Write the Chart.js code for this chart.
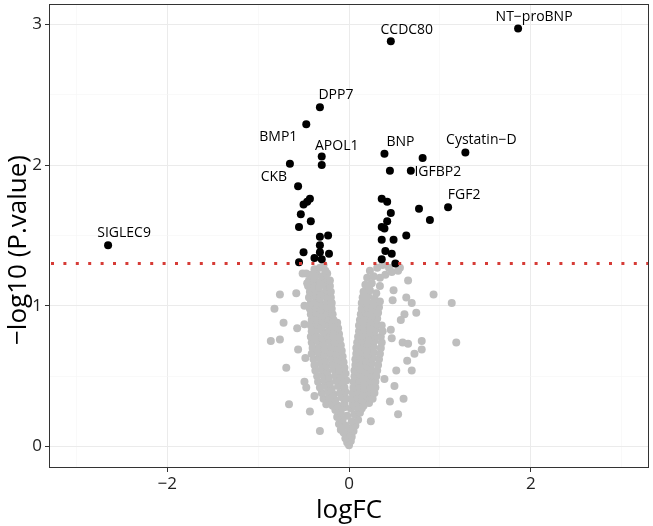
<!DOCTYPE html>
<html>
<head>
<meta charset="utf-8">
<script src="https://cdn.jsdelivr.net/npm/chart.js@4.4.1/dist/chart.umd.min.js"></script>
<style>
  html, body { margin: 0; padding: 0; background: #fff; }
  canvas { display: block; }
</style>
</head>
<body>
<canvas id="volcano" width="653" height="526"></canvas>
<script>
// labelled proteins
const geneNames = ['NT\u2212proBNP', 'CCDC80', 'DPP7', 'BMP1', 'APOL1', 'CKB', 'BNP', 'Cystatin\u2212D', 'IGFBP2', 'FGF2', 'SIGLEC9'];
const geneFC    = [1.86, 0.46, -0.32, -0.47, -0.30, -0.65, 0.39, 1.28, 0.68, 1.09, -2.65];
const geneP     = [2.97, 2.88, 2.41, 2.29, 2.06, 2.01, 2.08, 2.09, 1.96, 1.70, 1.43];

// other significant (unlabelled) points
const sigFC = [-0.30, 0.81, 0.45, -0.56, -0.43, -0.46, -0.50, -0.53, -0.42, -0.55, 0.36, 0.42, 0.46, 0.42, 0.36, 0.39,
               0.77, 0.89, 0.63, -0.32, -0.23, -0.32, 0.36, 0.49, -0.50, -0.32, -0.22, -0.38, -0.30, 0.40, 0.47, 0.36, -0.55, 0.51];
const sigP  = [2.00, 2.05, 1.96, 1.85, 1.76, 1.74, 1.72, 1.65, 1.60, 1.56, 1.76, 1.74, 1.66, 1.60, 1.56, 1.55,
               1.69, 1.61, 1.50, 1.49, 1.50, 1.43, 1.47, 1.47, 1.38, 1.38, 1.37, 1.34, 1.33, 1.39, 1.37, 1.33, 1.31, 1.30];

// non-significant points (logFC, -log10 p)
const nsTip = [
  [0.00,0.01],[-0.02,0.03],[0.02,0.04],[-0.04,0.06],[0.03,0.07],[-0.01,0.09],[-0.06,0.10],[0.05,0.11],[-0.09,0.12],
  [0.01,0.13],[-0.04,0.15],[0.07,0.15],[-0.11,0.16],[0.03,0.18],[-0.07,0.19],[0.10,0.19],[-0.13,0.21],[-0.02,0.22],
  [0.06,0.23],[-0.09,0.24],[0.12,0.24],[-0.15,0.26],[0.02,0.27],[-0.05,0.28],[0.09,0.28],[-0.18,0.29],[0.14,0.27]
];
const nsLeftArm = [
  [-0.25,0.30],[-0.18,0.31],[-0.12,0.29],[-0.05,0.31],
  [-0.28,0.34],[-0.22,0.35],[-0.15,0.33],[-0.08,0.35],[-0.03,0.34],
  [-0.30,0.38],[-0.23,0.39],[-0.17,0.37],[-0.10,0.38],[-0.04,0.39],
  [-0.32,0.42],[-0.26,0.43],[-0.19,0.41],[-0.12,0.43],[-0.05,0.42],
  [-0.34,0.46],[-0.27,0.47],[-0.21,0.45],[-0.14,0.47],[-0.08,0.46],[-0.03,0.47],
  [-0.35,0.50],[-0.29,0.51],[-0.22,0.49],[-0.15,0.51],[-0.09,0.50],[-0.04,0.52],
  [-0.37,0.54],[-0.30,0.55],[-0.24,0.53],[-0.17,0.55],[-0.11,0.54],[-0.05,0.56],
  [-0.38,0.58],[-0.31,0.59],[-0.25,0.57],[-0.18,0.59],[-0.12,0.58],[-0.06,0.60],
  [-0.39,0.62],[-0.33,0.63],[-0.26,0.61],[-0.19,0.63],[-0.13,0.62],[-0.07,0.64],
  [-0.41,0.66],[-0.34,0.67],[-0.27,0.65],[-0.21,0.67],[-0.14,0.66],[-0.08,0.68],
  [-0.40,0.70],[-0.33,0.71],[-0.27,0.69],[-0.20,0.71],[-0.14,0.70],[-0.09,0.72],
  [-0.41,0.74],[-0.35,0.75],[-0.28,0.73],[-0.22,0.75],[-0.16,0.74],[-0.10,0.76],
  [-0.42,0.78],[-0.36,0.79],[-0.29,0.77],[-0.23,0.79],[-0.17,0.78],[-0.11,0.80],
  [-0.41,0.82],[-0.35,0.83],[-0.28,0.81],[-0.22,0.83],[-0.16,0.82],[-0.12,0.84],
  [-0.42,0.86],[-0.36,0.87],[-0.30,0.85],[-0.24,0.87],[-0.18,0.86],[-0.13,0.88],
  [-0.41,0.90],[-0.35,0.91],[-0.29,0.89],[-0.23,0.91],[-0.17,0.90],
  [-0.42,0.94],[-0.36,0.95],[-0.30,0.93],[-0.24,0.95],[-0.18,0.94],
  [-0.43,0.98],[-0.37,0.99],[-0.31,0.97],[-0.25,0.99],[-0.19,0.98],
  [-0.42,1.02],[-0.36,1.03],[-0.30,1.01],[-0.24,1.03],[-0.19,1.02],
  [-0.44,1.06],[-0.38,1.07],[-0.32,1.05],[-0.26,1.07],[-0.20,1.06],
  [-0.43,1.10],[-0.37,1.11],[-0.31,1.09],[-0.25,1.11],[-0.20,1.10],
  [-0.45,1.14],[-0.39,1.15],[-0.33,1.13],[-0.27,1.15],[-0.21,1.14],
  [-0.44,1.18],[-0.38,1.19],[-0.32,1.17],[-0.26,1.19],[-0.21,1.18],
  [-0.42,1.22],[-0.36,1.23],[-0.30,1.21],[-0.24,1.23],
  [-0.38,1.26],[-0.32,1.27],[-0.26,1.25],[-0.47,1.23],[-0.28,1.29]
];
const nsRightArm = [
  [0.04,0.30],[0.10,0.31],[0.16,0.29],[0.22,0.31],
  [0.03,0.34],[0.09,0.35],[0.15,0.33],[0.21,0.35],[0.26,0.34],
  [0.04,0.38],[0.10,0.39],[0.16,0.37],[0.22,0.39],[0.28,0.38],
  [0.05,0.42],[0.11,0.43],[0.17,0.41],[0.23,0.43],[0.29,0.42],
  [0.05,0.46],[0.11,0.47],[0.17,0.45],[0.23,0.47],[0.29,0.46],
  [0.06,0.50],[0.12,0.51],[0.18,0.49],[0.24,0.51],[0.30,0.50],
  [0.06,0.54],[0.12,0.55],[0.18,0.53],[0.24,0.55],[0.31,0.54],
  [0.07,0.58],[0.13,0.59],[0.19,0.57],[0.25,0.59],[0.32,0.58],
  [0.07,0.62],[0.13,0.63],[0.19,0.61],[0.26,0.63],[0.33,0.62],
  [0.08,0.66],[0.14,0.67],[0.20,0.65],[0.27,0.67],[0.34,0.66],
  [0.08,0.70],[0.14,0.71],[0.20,0.69],[0.27,0.71],[0.35,0.70],
  [0.09,0.74],[0.15,0.75],[0.21,0.73],[0.28,0.75],[0.36,0.74],
  [0.10,0.78],[0.16,0.79],[0.22,0.77],[0.28,0.79],[0.35,0.78],
  [0.11,0.82],[0.17,0.83],[0.23,0.81],[0.29,0.83],[0.37,0.82],
  [0.11,0.86],[0.17,0.87],[0.23,0.85],[0.30,0.87],[0.36,0.86],
  [0.12,0.90],[0.18,0.91],[0.24,0.89],[0.31,0.91],
  [0.13,0.94],[0.19,0.95],[0.25,0.93],[0.32,0.95],
  [0.14,0.98],[0.20,0.99],[0.26,0.97],[0.33,0.99],
  [0.14,1.02],[0.20,1.03],[0.27,1.01],[0.34,1.03],
  [0.15,1.06],[0.21,1.07],[0.28,1.05],
  [0.16,1.10],[0.23,1.11],[0.30,1.09],
  [0.18,1.15],[0.25,1.16],[0.34,1.14],
  [0.20,1.20],[0.27,1.21],[0.40,1.22],
  [0.23,1.25],[0.31,1.27],[0.44,1.27],[0.37,1.29],[0.56,1.27],[0.47,1.24]
];
const nsScatter = [
  [-0.76,1.08],[-0.58,1.09],[-0.82,0.98],[-0.72,0.88],[-0.86,0.75],[-0.76,0.76],[-0.57,0.84],[-0.69,0.56],
  [-0.66,0.30],[-0.56,0.69],[-0.48,0.63],[-0.49,0.46],[-0.47,0.42],[-0.43,0.25],[-0.32,0.11],[-0.38,0.36],
  [-0.49,0.87],[-0.49,1.00],[-0.46,1.16],[-0.51,1.23],
  [0.93,1.08],[1.13,1.02],[1.18,0.74],[0.80,0.75],[0.80,0.69],[0.72,0.66],[0.69,0.54],[0.74,0.95],
  [0.69,1.02],[0.63,1.06],[0.65,1.18],[0.60,0.34],[0.54,0.23],[0.50,0.43],[0.59,0.74],[0.65,0.73],
  [0.64,0.61],[0.61,0.94],[0.57,0.90],[0.48,1.04],[0.49,1.11],[0.22,1.12],[0.34,1.20],[0.54,1.25],
  [0.45,0.32],[0.39,0.48],[0.46,0.83],[0.47,0.77],[0.52,0.54],[0.24,0.18]
];

const pCutoff = 0.05;
const yTitle = '\u2212log10 (P.value)';
// label nudges in pixels, same order as geneNames
const labelNudge = [[16,-11],[16,-11],[16,-12],[-28,13],[15,-11],[-16,13],[16,-12],[16,-12],[27,1],[16,-12],[16,-12]];

const FONT = '"Open Sans", "Noto Sans", sans-serif';
const minus = v => (v < 0 ? '\u2212' + Math.abs(v) : String(v));

const volcanoExtras = {
  id: 'volcanoExtras',
  afterDatasetsDraw(chart) {
    const ctx = chart.ctx, area = chart.chartArea;
    const xs = chart.scales.x, ys = chart.scales.y;
    const yy = ys.getPixelForValue(-Math.log10(pCutoff));
    ctx.save();
    ctx.strokeStyle = '#d63b36';
    ctx.lineWidth = 3;
    ctx.setLineDash([3, 9.4]);
    ctx.beginPath();
    ctx.moveTo(area.left + 2, yy);
    ctx.lineTo(area.right, yy);
    ctx.stroke();
    ctx.setLineDash([]);

    ctx.font = '14px ' + FONT;
    ctx.fillStyle = '#000';
    ctx.textAlign = 'center';
    ctx.textBaseline = 'middle';
    geneNames.forEach((g, i) => {
      const px = xs.getPixelForValue(geneFC[i]);
      const py = ys.getPixelForValue(geneP[i]);
      ctx.fillText(g, px + labelNudge[i][0], py + labelNudge[i][1]);
    });
    ctx.restore();
  },
  afterDraw(chart) {
    const ctx = chart.ctx, a = chart.chartArea;
    ctx.save();
    ctx.strokeStyle = '#333';
    ctx.lineWidth = 1;
    ctx.strokeRect(Math.round(a.left) + 0.5, Math.round(a.top) + 0.5, Math.round(a.right - a.left) - 1, Math.round(a.bottom - a.top) - 1);
    // y axis title, sits a little below the panel centre like the original
    ctx.translate(19, 250);
    ctx.rotate(-Math.PI / 2);
    ctx.font = '26px ' + FONT;
    ctx.fillStyle = '#000';
    ctx.textAlign = 'center';
    ctx.textBaseline = 'middle';
    ctx.fillText(yTitle, 0, 0);
    ctx.restore();
  }
};

const ctx = document.getElementById('volcano').getContext('2d');
new Chart(ctx, {
  type: 'scatter',
  data: {
    datasets: [
      {
        label: 'significant',
        data: geneFC.map((v, i) => ({x: v, y: geneP[i]})).concat(sigFC.map((v, i) => ({x: v, y: sigP[i]}))),
        backgroundColor: '#000',
        borderWidth: 0,
        pointRadius: 4,
        order: 1
      },
      {
        label: 'ns',
        data: nsTip.concat(nsLeftArm, nsRightArm, nsScatter),
        backgroundColor: '#bebebe',
        borderWidth: 0,
        pointRadius: 4,
        order: 2
      }
    ]
  },
  options: {
    responsive: false,
    animation: false,
    events: [],
    layout: { padding: { top: 1, right: 1, left: 0, bottom: 0 } },
    plugins: { legend: { display: false }, tooltip: { enabled: false } },
    scales: {
      x: {
        type: 'linear',
        min: -3.3, max: 3.3,
        afterFit: s => { s.height = 58; s.paddingLeft = 0; s.paddingRight = 0; },
        afterBuildTicks: s => { s.ticks = [-3, -2, -1, 0, 1, 2, 3].map(v => ({value: v})); },
        border: { display: false },
        grid: {
          color: c => (c.tick && c.tick.value % 2 === 0 ? '#ebebeb' : '#f5f5f5'),
          lineWidth: c => (c.tick && c.tick.value % 2 === 0 ? 1 : 0.6),
          tickColor: c => (c.tick && c.tick.value % 2 === 0 ? '#333' : 'rgba(0,0,0,0)'),
          tickLength: 4,
          tickWidth: 1
        },
        ticks: {
          padding: 2,
          color: '#222',
          font: { family: FONT, size: 17 },
          maxRotation: 0,
          autoSkip: false,
          callback: v => (v % 2 === 0 ? minus(v) : '')
        },
        title: {
          display: true,
          text: 'logFC',
          color: '#000',
          font: { family: FONT, size: 26 },
          padding: { top: 0, bottom: 0 }
        }
      },
      y: {
        type: 'linear',
        min: -0.152, max: 3.144,
        afterFit: s => { s.width = 49; s.paddingTop = 0; s.paddingBottom = 0; },
        afterBuildTicks: s => { s.ticks = [0, 0.5, 1, 1.5, 2, 2.5, 3].map(v => ({value: v})); },
        border: { display: false },
        grid: {
          color: c => (c.tick && Number.isInteger(c.tick.value) ? '#ebebeb' : '#f5f5f5'),
          lineWidth: c => (c.tick && Number.isInteger(c.tick.value) ? 1 : 0.6),
          tickColor: c => (c.tick && Number.isInteger(c.tick.value) ? '#333' : 'rgba(0,0,0,0)'),
          tickLength: 4,
          tickWidth: 1
        },
        ticks: {
          padding: 3,
          color: '#222',
          font: { family: FONT, size: 17 },
          autoSkip: false,
          callback: v => (Number.isInteger(v) ? minus(v) : '')
        },
        title: { display: false }
      }
    }
  },
  plugins: [volcanoExtras]
});
</script>
</body>
</html>
